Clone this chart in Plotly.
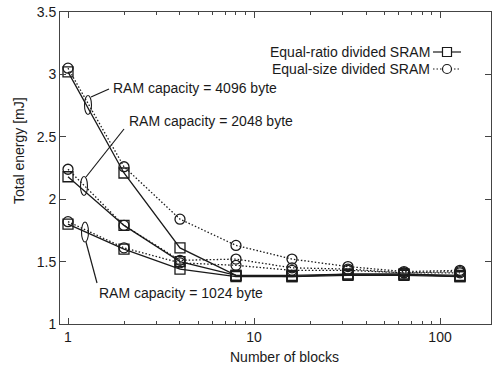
import plotly.graph_objects as go

blocks = [1, 2, 4, 8, 16, 32, 64, 128]

ratio_4096 = [3.02, 2.21, 1.61, 1.39, 1.39, 1.40, 1.40, 1.39]
size_4096 = [3.05, 2.26, 1.84, 1.63, 1.52, 1.46, 1.42, 1.43]
ratio_2048 = [2.18, 1.79, 1.50, 1.39, 1.38, 1.40, 1.40, 1.38]
size_2048 = [2.24, 1.79, 1.51, 1.52, 1.45, 1.44, 1.41, 1.42]
ratio_1024 = [1.80, 1.60, 1.44, 1.38, 1.38, 1.39, 1.39, 1.38]
size_1024 = [1.82, 1.61, 1.49, 1.47, 1.43, 1.43, 1.41, 1.41]

x_ticks = [1, 10, 100]
x_minor = [2, 3, 4, 5, 6, 7, 8, 9, 20, 30, 40, 50, 60, 70, 80, 90]
y_ticks = [1, 1.5, 2, 2.5, 3, 3.5]

W, H = 493, 365
L, R, T, B = 60, 2, 12, 41
PW, PH = W - L - R, H - T - B

def px(x):
    return (x - L) / PW

def py(y):
    return 1 - (y - T) / PH

fig = go.Figure()
FONT = "Liberation Sans, Arial, sans-serif"
ink = "#1a1a1a"
DOT = "1.5px,2px"

for ratio, size in [(ratio_4096, size_4096), (ratio_2048, size_2048), (ratio_1024, size_1024)]:
    fig.add_trace(go.Scatter(x=blocks, y=size, mode="lines+markers",
                             line=dict(color=ink, width=1.3, dash=DOT),
                             marker=dict(symbol="circle-open", size=10, color=ink, line=dict(width=1.3)),
                             showlegend=False))
    fig.add_trace(go.Scatter(x=blocks, y=ratio, mode="lines+markers",
                             line=dict(color=ink, width=1.3),
                             marker=dict(symbol="square-open", size=10, color=ink, line=dict(width=1.3)),
                             showlegend=False))

shapes = []
annotations = []

def ellipse(cx, cy, w, h):
    shapes.append(dict(type="circle", xref="paper", yref="paper",
                       x0=px(cx - w / 2), x1=px(cx + w / 2), y0=py(cy + h / 2), y1=py(cy - h / 2),
                       line=dict(color=ink, width=1.1)))

def seg(x0, y0, x1, y1, dash="solid"):
    shapes.append(dict(type="line", xref="paper", yref="paper",
                       x0=px(x0), x1=px(x1), y0=py(y0), y1=py(y1),
                       line=dict(color=ink, width=1.2, dash=dash)))

def text(x, y, s, anchor="left", size=14, angle=0):
    annotations.append(dict(xref="paper", yref="paper", x=px(x), y=py(y), text=s,
                            showarrow=False, xanchor=anchor, yanchor="middle", textangle=angle,
                            font=dict(family=FONT, size=size, color=ink)))

# 4096 label
ellipse(88, 105, 7, 19)
seg(91, 97, 109, 89)
text(111, 88, "RAM capacity = 4096 byte")
# 2048 label
ellipse(84, 186, 7, 19)
seg(86, 177, 124, 129)
text(127, 121, "RAM capacity = 2048 byte")
# 1024 label
ellipse(85, 232, 7, 20)
seg(86, 242, 97, 283)
text(97, 293, "RAM capacity = 1024 byte")

# legend
text(432, 52, "Equal-ratio divided SRAM", anchor="right")
text(432, 69, "Equal-size divided SRAM", anchor="right")
seg(433, 52, 461, 52)
shapes.append(dict(type="rect", xref="paper", yref="paper",
                   x0=px(442.5), x1=px(451.5), y0=py(56.5), y1=py(47.5),
                   line=dict(color=ink, width=1.2), fillcolor="white"))
seg(433, 69, 461, 69, dash=DOT)
shapes.append(dict(type="circle", xref="paper", yref="paper",
                   x0=px(442.5), x1=px(451.5), y0=py(73.5), y1=py(64.5),
                   line=dict(color=ink, width=1.2), fillcolor="white"))

# axis titles
text(284, 357, "Number of blocks", anchor="center", size=14)
text(19, 151, "Total energy [mJ]", anchor="center", size=14, angle=-90)

fig.update_layout(
    width=W, height=H,
    margin=dict(l=L, r=R, t=T, b=B),
    plot_bgcolor="white", paper_bgcolor="white",
    font=dict(family=FONT, size=13, color=ink),
    shapes=shapes, annotations=annotations,
)
fig.update_xaxes(type="log", range=[-0.043, 2.274], tickvals=x_ticks, ticktext=["1", "10", "100"],
                 ticks="inside", ticklen=6, tickcolor="#444", showline=True, linecolor="#444",
                 mirror="ticks", showgrid=False, zeroline=False,
                 minor=dict(tickvals=x_minor, ticks="inside", ticklen=3, tickcolor="#444", showgrid=False),
                 tickfont=dict(size=14))
fig.update_yaxes(range=[1, 3.5], tickvals=y_ticks, ticktext=["1", "1.5", "2", "2.5", "3", "3.5"],
                 ticks="inside", ticklen=6, tickcolor="#444", showline=True, linecolor="#444",
                 mirror="ticks", showgrid=False, zeroline=False,
                 tickfont=dict(size=14))

fig.write_html("out.html")
